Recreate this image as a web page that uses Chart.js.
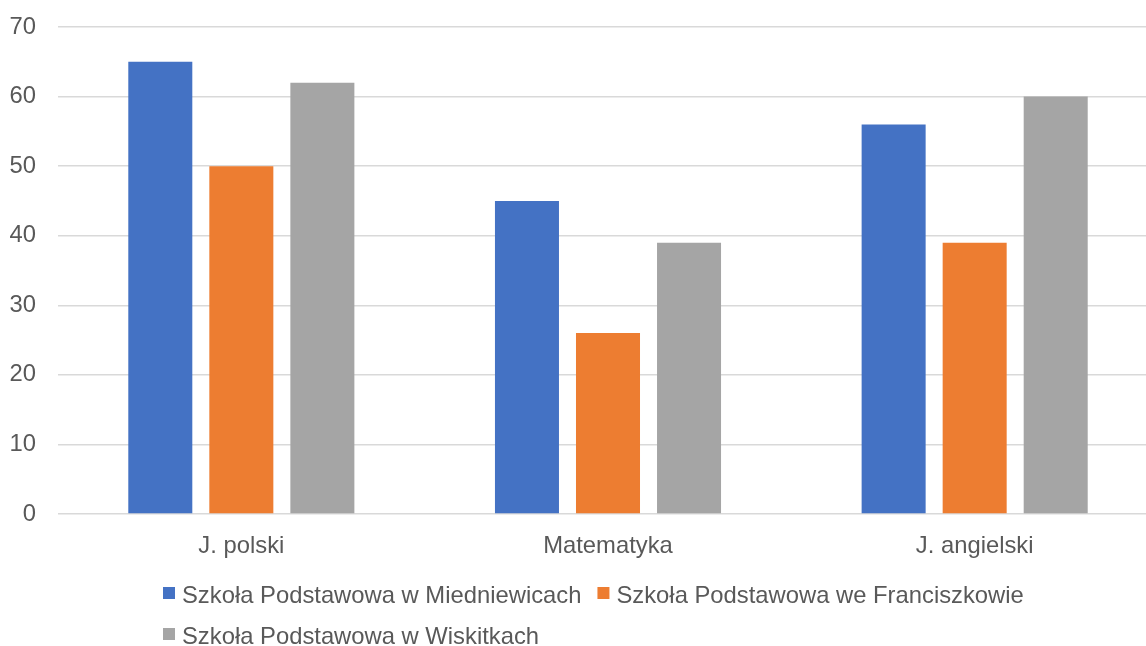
<!DOCTYPE html>
<html>
<head>
<meta charset="utf-8">
<script src="https://cdn.jsdelivr.net/npm/chart.js@4/dist/chart.umd.min.js"></script>
<style>
  html, body { margin: 0; padding: 0; overflow: hidden; background: #ffffff; }
  #wrap { width: 1160px; height: 646px; position: relative; }
</style>
</head>
<body>
<div id="wrap"><canvas id="chart"></canvas></div>
<script>
// Subjects along the x axis
const subjects = ['J. polski', 'Matematyka', 'J. angielski'];
// One series per school
const schools = [
  'Szkoła Podstawowa w Miedniewicach',
  'Szkoła Podstawowa we Franciszkowie',
  'Szkoła Podstawowa w Wiskitkach'
];
const miedniewice = [65, 45, 56];
const franciszkow = [50, 26, 39];
const wiskitki = [62, 39, 60];
// Value axis ticks
const yTicks = [0, 10, 20, 30, 40, 50, 60, 70];

const colors = ['#4472C4', '#ED7D31', '#A5A5A5'];
const TEXT = '#595959';
const FONT_FAMILY = '"Liberation Sans", Arial, sans-serif';
const FONT_SIZE = 23.8;

// Legend laid out in rows, each row starting at the same left edge
const legendRows = [[0, 1], [2]];
const legendLayout = { left: 163, rowBaselines: [603, 644], box: 12, textGap: 19, itemGap: 16 };

const rowLegend = {
  id: 'rowLegend',
  afterDraw(chart) {
    const ctx = chart.ctx;
    const ds = chart.data.datasets;
    ctx.save();
    ctx.font = FONT_SIZE + 'px ' + FONT_FAMILY;
    ctx.textBaseline = 'alphabetic';
    ctx.textAlign = 'left';
    legendRows.forEach((row, r) => {
      let x = legendLayout.left;
      const base = legendLayout.rowBaselines[r];
      row.forEach(i => {
        ctx.fillStyle = ds[i].backgroundColor;
        ctx.fillRect(x, base - 16, legendLayout.box, legendLayout.box);
        ctx.fillStyle = TEXT;
        ctx.fillText(ds[i].label, x + legendLayout.textGap, base);
        x += legendLayout.textGap + ctx.measureText(ds[i].label).width + legendLayout.itemGap;
      });
    });
    ctx.restore();
  }
};

const seriesValues = [miedniewice, franciszkow, wiskitki];

new Chart(document.getElementById('chart'), {
  type: 'bar',
  data: {
    labels: subjects,
    datasets: schools.map((name, i) => ({
      label: name,
      data: seriesValues[i],
      backgroundColor: colors[i],
      borderWidth: 0,
      categoryPercentage: 0.663,
      barPercentage: 0.79
    }))
  },
  options: {
    responsive: true,
    maintainAspectRatio: false,
    animation: false,
    layout: { padding: { top: 27, right: 2, bottom: 0, left: 0 } },
    plugins: {
      legend: { display: false },
      tooltip: { enabled: false }
    },
    scales: {
      x: {
        grid: { display: false },
        border: { display: false },
        ticks: {
          color: TEXT,
          font: { family: FONT_FAMILY, size: FONT_SIZE },
          padding: 10,
          maxRotation: 0
        },
        afterFit(scale) { scale.height = 132; }
      },
      y: {
        min: 0,
        max: 70,
        border: { display: false },
        grid: { color: '#d9d9d9', lineWidth: 1.5, drawTicks: false },
        afterBuildTicks(scale) { scale.ticks = yTicks.map(v => ({ value: v })); },
        ticks: {
          color: TEXT,
          font: { family: FONT_FAMILY, size: FONT_SIZE },
          padding: 22
        },
        afterFit(scale) {
          scale.width = 58;
          scale.paddingTop = 0;
          scale.paddingBottom = 0;
        }
      }
    }
  },
  plugins: [rowLegend]
});
</script>
</body>
</html>
